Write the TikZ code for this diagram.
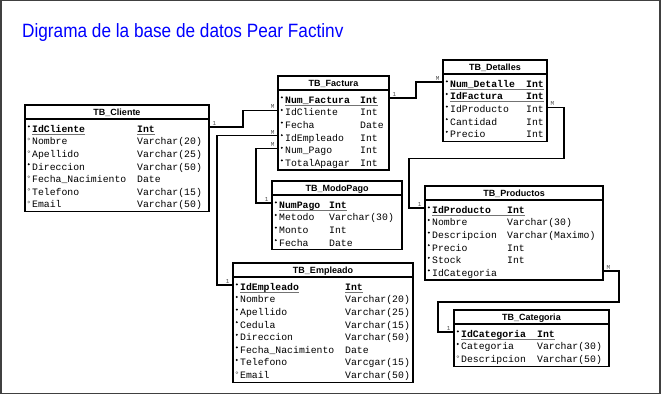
\documentclass[tikz,border=0pt]{standalone}
\usepackage{fontspec}
\usepackage{graphicx}
\setmainfont{Liberation Sans}
\setmonofont{Liberation Mono}
\usetikzlibrary{calc}

\definecolor{titleblue}{RGB}{0,0,255}

\tikzset{
  tablebox/.style={draw=black, line width=1.2pt, inner sep=0pt, outer sep=0pt, fill=white},
  hdrline/.style={line width=1.2pt},
  hdrtext/.style={font=\fontsize{9}{10}\selectfont\bfseries, inner sep=0pt, anchor=base},
  fieldtext/.style={font=\ttfamily\fontsize{9.8}{11}\selectfont, inner sep=0pt, anchor=base west},
  keytext/.style={font=\ttfamily\bfseries\fontsize{9.8}{11}\selectfont, inner sep=0pt, anchor=base west},
  conn/.style={line width=1.3pt, line join=miter},
  card/.style={font=\ttfamily\fontsize{6}{6}\selectfont, text=black!70, inner sep=0.3pt},
  reqmark/.style={fill=black},
  optmark/.style={draw=black!50, fill=white, line width=0.4pt},
  keyrule/.style={draw=black!55, line width=0.7pt},
  frame/.style={draw=black!75, line width=1.2pt},
}

% \erTable{id}{left}{top}{right}{title}{type column x}{rows}{mark/name/type/key,...}
% mark: 1 = required (filled dot), 0 = optional (hollow dot)
% key:  0 = none, 1 = underline across name and type, 2 = separate underlines
\newcommand\erTable[8]{%
  \pgfmathsetmacro\erH{24+(#7-1)*12.6+7}%
  \pgfmathsetmacro\erW{#4-#2}%
  \node[tablebox, minimum width=\erW pt, minimum height=\erH pt, anchor=north west] (#1) at (#2,#3) {};
  \draw[hdrline] (#2,#3+14) -- (#4,#3+14);
  \node[hdrtext] (#1-title) at ({(#2+#4)/2},#3+10.3) {#5};
  \foreach \fmark/\fname/\ftype/\fkey [count=\rowi] in {#8} {
    \pgfmathsetmacro\fy{#3+24+(\rowi-1)*12.6}
    \coordinate (#1-r\rowi) at (#2,\fy-2);
    \ifnum\fmark=1
      \fill[reqmark] (#2+3.8,\fy-2.6) circle[radius=1.1pt];
    \else
      \draw[optmark] (#2+3.8,\fy-2.6) circle[radius=1.1pt];
    \fi
    \ifnum\fkey=0
      \node[fieldtext] (#1-n\rowi) at (#2+7,\fy+3.3) {\fname};
      \node[fieldtext] (#1-t\rowi) at (#6,\fy+3.3) {\ftype};
    \else
      \node[keytext] (#1-n\rowi) at (#2+7,\fy+3.3) {\fname};
      \node[keytext] (#1-t\rowi) at (#6,\fy+3.3) {\ftype};
    \fi
    \ifnum\fkey=1
      \draw[keyrule] ($(#1-n\rowi.base west)+(0,1.8)$) -- ($(#1-t\rowi.base east)+(0,1.8)$);
    \fi
    \ifnum\fkey=2
      \draw[keyrule] ($(#1-n\rowi.base west)+(0,1.8)$) -- ($(#1-n\rowi.base east)+(0,1.8)$);
      \draw[keyrule] ($(#1-t\rowi.base west)+(0,1.8)$) -- ($(#1-t\rowi.base east)+(0,1.8)$);
    \fi
  }
}

\begin{document}
\begin{tikzpicture}[x=1pt,y=-1pt]
\useasboundingbox (0,0) rectangle (662,396);
\fill[white] (0,0) rectangle (662,396);
\draw[frame] (0.9,0.9) rectangle (660,393.6);

\node[font=\fontsize{17.2}{20}\selectfont, text=titleblue, anchor=base west, inner sep=0pt] (title)
  at (22,37.5) {\scalebox{1}[1.12]{Digrama de la base de datos Pear Factinv}};

\erTable{cli}{25}{105}{209}{TB\_Cliente}{137}{7}{%
  1/IdCliente/Int/2,
  0/Nombre/Varchar(20)/0,
  0/Apellido/Varchar(25)/0,
  1/Direccion/Varchar(50)/0,
  0/Fecha\_Nacimiento/Date/0,
  0/Telefono/Varchar(15)/0,
  0/Email/Varchar(50)/0}

\erTable{fac}{278}{76}{389}{TB\_Factura}{360}{6}{%
  1/Num\_Factura/Int/1,
  1/IdCliente/Int/0,
  1/Fecha/Date/0,
  1/IdEmpleado/Int/0,
  1/Num\_Pago/Int/0,
  1/TotalApagar/Int/0}

\erTable{det}{443}{60}{547}{TB\_Detalles}{526}{5}{%
  1/Num\_Detalle/Int/1,
  1/IdFactura/Int/1,
  1/IdProducto/Int/0,
  1/Cantidad/Int/0,
  1/Precio/Int/0}

\erTable{mp}{272}{181}{402}{TB\_ModoPago}{329}{4}{%
  1/NumPago/Int/1,
  1/Metodo/Varchar(30)/0,
  1/Monto/Int/0,
  1/Fecha/Date/0}

\erTable{prod}{425}{186}{603}{TB\_Productos}{507}{6}{%
  1/IdProducto/Int/1,
  1/Nombre/Varchar(30)/0,
  1/Descripcion/Varchar(Maximo)/0,
  1/Precio/Int/0,
  1/Stock/Int/0,
  1/IdCategoria//0}

\erTable{emp}{233}{263}{413}{TB\_Empleado}{345}{8}{%
  1/IdEmpleado/Int/2,
  1/Nombre/Varchar(20)/0,
  1/Apellido/Varchar(25)/0,
  1/Cedula/Varchar(15)/0,
  1/Direccion/Varchar(50)/0,
  1/Fecha\_Nacimiento/Date/0,
  1/Telefono/Varcgar(15)/0,
  0/Email/Varchar(50)/0}

\erTable{cat}{454}{310}{609}{TB\_Categoria}{537}{3}{%
  1/IdCategoria/Int/1,
  1/Categoria/Varchar(30)/0,
  0/Descripcion/Varchar(50)/0}

% relationships
\draw[conn] (cli.east |- cli-r1) -- ++(34,0) |- (fac.west |- fac-r2);
\node[card, anchor=south west] (cli-c) at ($(cli.east |- cli-r1)+(3,-1.2)$) {1};
\node[card, anchor=south east] (fac-c2) at ($(fac.west |- fac-r2)+(-3,-1.2)$) {M};

\draw[conn] (fac.west |- fac-r4) -- ++(-61,0) |- (emp.west |- emp-r1);
\node[card, anchor=south east] (fac-c4) at ($(fac.west |- fac-r4)+(-3,-1.2)$) {M};
\node[card, anchor=south east] (emp-c) at ($(emp.west |- emp-r1)+(-3,-1.2)$) {1};

\draw[conn] (fac.west |- fac-r5) -- ++(-22,0) |- (mp.west |- mp-r1);
\node[card, anchor=south east] (fac-c5) at ($(fac.west |- fac-r5)+(-3,-1.2)$) {M};
\node[card, anchor=south east] (mp-c) at ($(mp.west |- mp-r1)+(-3,-1.2)$) {1};

\draw[conn] (fac.east |- fac-r1) -- ++(27,0) |- (det.west |- det-r1);
\node[card, anchor=south west] (fac-c1) at ($(fac.east |- fac-r1)+(3,-1.2)$) {1};
\node[card, anchor=south east] (det-c1) at ($(det.west |- det-r1)+(-3,-1.2)$) {M};

\draw[conn] (det.east |- det-r3) -- ++(17,0) -- ++(0,51) -- ++(-155,0) |- (prod.west |- prod-r1);
\node[card, anchor=south west] (det-c3) at ($(det.east |- det-r3)+(3,-1.2)$) {M};
\node[card, anchor=south east] (prod-c1) at ($(prod.west |- prod-r1)+(-3,-1.2)$) {1};

\draw[conn] (prod.east |- prod-r6) -- ++(16,0) -- ++(0,31) -- ++(-181,0) |- (cat.west |- cat-r1);
\node[card, anchor=south west] (prod-c6) at ($(prod.east |- prod-r6)+(3,-1.2)$) {M};
\node[card, anchor=south east] (cat-c) at ($(cat.west |- cat-r1)+(-3,-1.2)$) {1};
\end{tikzpicture}
\end{document}
